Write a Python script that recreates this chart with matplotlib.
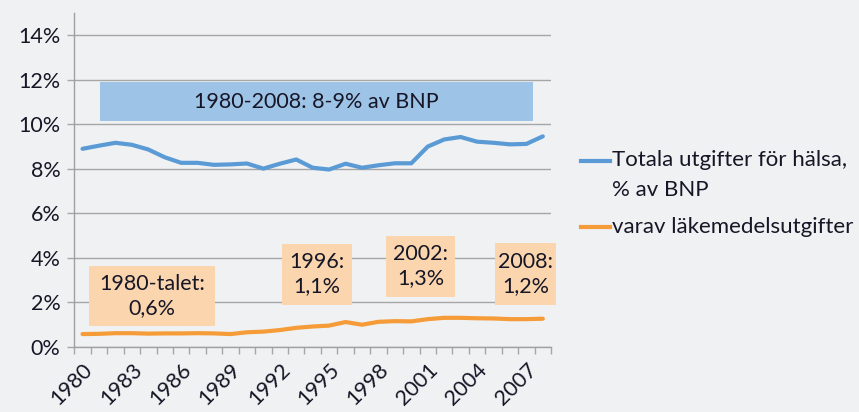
import matplotlib
matplotlib.use("Agg")
import matplotlib.pyplot as plt
from matplotlib.patches import Rectangle
from matplotlib.lines import Line2D

plt.rcParams['font.family'] = ['Lato', 'DejaVu Sans']

years = list(range(1980, 2009))
total_health = [8.90, 9.04, 9.17, 9.08, 8.87, 8.52, 8.27, 8.27, 8.18, 8.20,
                8.24, 8.01, 8.23, 8.42, 8.05, 7.97, 8.23, 8.05, 8.16, 8.25,
                8.25, 9.00, 9.32, 9.43, 9.22, 9.17, 9.10, 9.12, 9.46]
drug_costs = [0.58, 0.59, 0.62, 0.62, 0.60, 0.61, 0.61, 0.62, 0.61, 0.58,
              0.66, 0.69, 0.76, 0.86, 0.92, 0.96, 1.12, 1.00, 1.13, 1.16,
              1.15, 1.25, 1.31, 1.31, 1.29, 1.28, 1.25, 1.25, 1.27]
label_total = "Totala utgifter för hälsa,\n% av BNP"
label_drug = "varav läkemedelsutgifter"
blue_note = "1980-2008: 8-9% av BNP"
orange_notes = ["1980-talet:\n0,6%", "1996:\n1,1%", "2002:\n1,3%", "2008:\n1,2%"]

bg = '#f0f1f3'
blue = '#5b9bd5'
orange = '#f59b38'
txt = '#161626'
fs = 15.5

fig = plt.figure(figsize=(8.59, 4.12), dpi=100, facecolor=bg)
ax = fig.add_axes([0.0865, 0.1578, 0.555, 0.8107], facecolor=bg)

x = list(range(len(years)))
ax.plot(x, total_health, color=blue, lw=3.0, solid_capstyle='round', zorder=3)
ax.plot(x, drug_costs, color=orange, lw=3.0, solid_capstyle='round', zorder=3)

ax.set_xlim(-0.5, len(years) - 0.5)
ax.set_ylim(0, 15)
ax.set_yticks(range(0, 15, 2))
ax.set_yticklabels([f"{v}%" for v in range(0, 15, 2)])
ax.yaxis.grid(True, color='#a6a6a6', lw=1.0)
ax.set_axisbelow(True)

ax.set_xticks([i - 0.5 for i in range(len(years) + 1)], minor=True)
ax.set_xticks([i for i in x if years[i] % 3 == 1980 % 3])
ax.set_xticklabels([str(years[i]) for i in x if years[i] % 3 == 1980 % 3],
                   rotation=45, ha='right', rotation_mode='anchor')
ax.tick_params(axis='x', which='major', length=0, pad=9, labelsize=fs, labelcolor=txt)
ax.tick_params(axis='x', which='minor', length=5, width=1, color='#a6a6a6')
ax.tick_params(axis='y', length=5, width=1, color='#a6a6a6', pad=5, labelsize=fs, labelcolor=txt)

for s in ['top', 'right']:
    ax.spines[s].set_visible(False)
for s in ['left', 'bottom']:
    ax.spines[s].set_color('#a0a0a0')
    ax.spines[s].set_linewidth(1.0)

# blue annotation box
ax.add_patch(Rectangle((1.08, 10.15), 26.33, 1.74, facecolor='#9dc3e6',
                       edgecolor='none', zorder=2))
ax.text(14.25, 11.02, blue_note, ha='center', va='center', fontsize=fs,
        color=txt, zorder=4)

# orange annotation boxes
boxes = [(0.41, 0.96, 7.62, 2.66), (12.16, 1.90, 4.22, 2.74),
         (18.45, 2.26, 4.21, 2.74), (25.11, 1.90, 3.70, 2.77)]
for (bx, by, bw, bh), note in zip(boxes, orange_notes):
    ax.add_patch(Rectangle((bx, by), bw, bh, facecolor='#fad5ad',
                           edgecolor='none', zorder=2, clip_on=False))
    ax.text(bx + bw / 2, by + bh / 2, note, ha='center', va='center',
            fontsize=fs, color=txt, linespacing=1.25, zorder=4)

# legend
W, H = 859, 412
fig.add_artist(Line2D([581 / W, 610 / W], [1 - 160.5 / H, 1 - 160.5 / H],
                      color=blue, lw=3.0))
fig.text(612 / W, 1 - 160.5 / H, label_total.split("\n")[0], va='center',
         ha='left', fontsize=fs + 0.5, color=txt)
fig.text(612 / W, 1 - 190 / H, label_total.split("\n")[1], va='center',
         ha='left', fontsize=fs + 0.5, color=txt)
fig.add_artist(Line2D([581 / W, 610 / W], [1 - 227 / H, 1 - 227 / H],
                      color=orange, lw=3.0))
fig.text(612 / W, 1 - 227 / H, label_drug, va='center', ha='left',
         fontsize=fs + 0.5, color=txt)

fig.savefig("out.png", dpi=100, facecolor=bg)
